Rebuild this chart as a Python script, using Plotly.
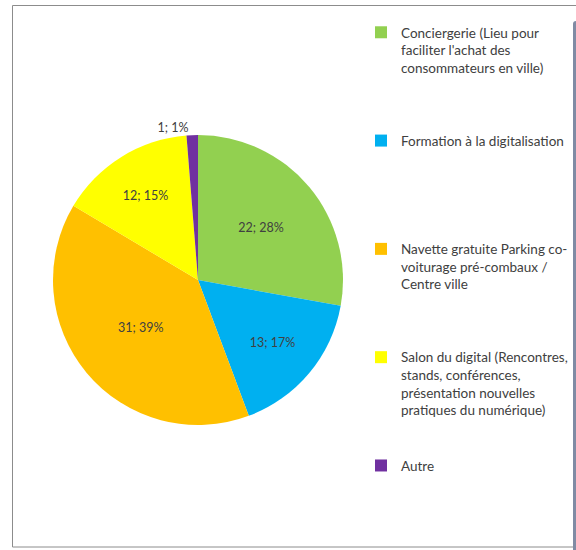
import plotly.graph_objects as go

# slice data, clockwise from 12 o'clock
labels = [
    "Conciergerie (Lieu pour<br>faciliter l'achat des<br>consommateurs en ville)",
    "Formation à la digitalisation",
    "Navette gratuite Parking co-<br>voiturage pré-combaux /<br>Centre ville",
    "Salon du digital (Rencontres,<br>stands, conférences,<br>présentation nouvelles<br>pratiques du numérique)",
    "Autre",
]
values = [22, 13, 31, 12, 1]
pct_labels = ["28%", "17%", "39%", "15%", "1%"]
colors = ["#92D050", "#00B0F0", "#FFC000", "#FFFF00", "#7030A0"]

FONT = "Lato"
TXT = "#404040"

# Excel spreads legend entries evenly, so pad every label to the same number of lines
slot_lines = 6
legend_names = [l + "<br> " * (slot_lines - 1 - l.count("<br>")) for l in labels]
text = [f"{v}; {p}" for v, p in zip(values, pct_labels)]

fig = go.Figure(go.Pie(
    labels=legend_names,
    values=values,
    text=text,
    textinfo="text",
    textposition=["inside", "inside", "inside", "inside", "outside"],
    insidetextorientation="horizontal",
    textfont=dict(family=FONT, size=12.5, color=TXT),
    marker=dict(colors=colors, line=dict(width=0)),
    sort=False,
    direction="clockwise",
    rotation=0,
    hole=0,
    domain=dict(x=[53 / 576, 343 / 576], y=[1 - 425 / 550, 1 - 135 / 550]),
))

# chart area border (right edge falls outside the crop)
fig.add_shape(type="rect", xref="paper", yref="paper",
              x0=12.5 / 576, x1=1.2, y0=1 - 547 / 550, y1=1 - 5.5 / 550,
              line=dict(color="#8c8c8c", width=1), fillcolor="rgba(0,0,0,0)", layer="below")

fig.update_layout(
    width=576, height=550,
    margin=dict(l=0, r=0, t=0, b=0, autoexpand=False),
    paper_bgcolor="white",
    font=dict(family=FONT, color=TXT),
    showlegend=True,
    legend=dict(x=361 / 576, y=1 - 17 / 550, xanchor="left", yanchor="top",
                font=dict(family=FONT, size=13.5, color=TXT),
                valign="top", bgcolor="rgba(0,0,0,0)", traceorder="normal"),
)

fig.write_html("out.html", config={"displayModeBar": False},
               post_script="document.body.style.margin='0';document.body.style.overflow='hidden';")
